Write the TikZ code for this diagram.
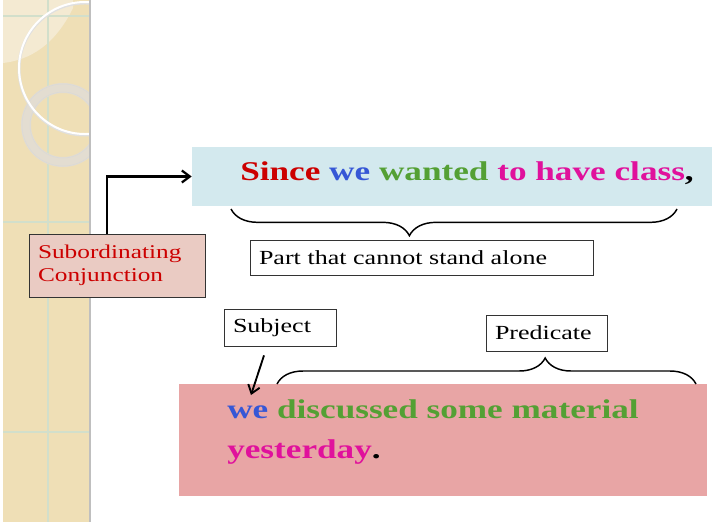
\documentclass[tikz,border=0pt]{standalone}
\usepackage{fontspec}
\setmainfont{Liberation Serif}[FakeStretch=1.3]
\usetikzlibrary{arrows.meta,decorations.pathreplacing}

\definecolor{stripbg}{HTML}{EFDFB6}
\definecolor{striplt}{HTML}{F4EAD2}
\definecolor{stripln}{HTML}{D2DFCB}
\definecolor{ringgray}{HTML}{E3DDD1}
\definecolor{clauseblue}{HTML}{D3E9EE}
\definecolor{mainpink}{HTML}{E8A5A5}
\definecolor{conjfill}{HTML}{EACBC3}
\definecolor{sred}{HTML}{CC0000}
\definecolor{sblue}{HTML}{3657D6}
\definecolor{sgreen}{HTML}{54A034}
\definecolor{smagenta}{HTML}{E0119C}

\begin{document}
\begin{tikzpicture}[x=0.75pt,y=-0.75pt,
    box/.style={draw=black!80, line width=0.6pt, inner xsep=6.75pt, inner ysep=0pt, align=left},
    big/.style={font=\bfseries\fontsize{20.3}{24}\selectfont},
    brc/.style={decorate, decoration={brace, amplitude=#1}, line width=1.1pt}]

  \useasboundingbox (0,0) rectangle (712,522);

  % Decorated strip on the left
  \begin{scope}
    \clip (3,0) rectangle (90,522);
    \fill[stripbg] (3,0) rectangle (90,522);
    \fill[striplt] (3,0) -- (73,0) -- (73,8) .. controls (55,45) and (30,60) .. (3,63) -- cycle;
    \draw[stripln, line width=2pt] (48,0) -- (48,522);
    \foreach \y in {16,222,432}
      \draw[stripln, line width=1.8pt] (3,\y) -- (90,\y);
    \draw[ringgray, line width=7.5pt] (63,125) circle (37);
    \draw[black!15, line width=0.4pt] (63,125) circle (41) (63,125) circle (33);
    \draw[black!12, line width=2.2pt] (85,69) circle (66);
    \draw[white, line width=1.5pt] (85,68) circle (66);
  \end{scope}
  \draw[black!25, line width=1.5pt] (90,0) -- (90,522);

  % Coloured sentence boxes
  \node[fill=clauseblue, minimum width=390pt, minimum height=44.25pt] (clause) at (452,176.5) {};
  \node[fill=mainpink, minimum width=396pt, minimum height=84pt] (main) at (443,440) {};

  % Sentence text
  \node[big, anchor=base west, inner sep=0pt] (since) at (240,180)
    {\textcolor{sred}{Since} \textcolor{sblue}{we} \textcolor{sgreen}{wanted} \textcolor{smagenta}{to have class},};
  \node[big, anchor=base west, inner sep=0pt] (line1) at (227,418)
    {\textcolor{sblue}{we} \textcolor{sgreen}{discussed some material}};
  \node[big, anchor=base west, inner sep=0pt] (line2) at (227,458)
    {\textcolor{smagenta}{yesterday}.};

  % Label boxes
  \node[box, fill=conjfill, text width=118.5pt, minimum height=47.25pt, text=sred,
        font=\fontsize{14.6}{17}\selectfont] (conj) at (117,265.5)
    {Subordinating\\Conjunction};
  \node[box, fill=white, text width=243.75pt, minimum height=26.25pt,
        font=\fontsize{15}{18}\selectfont] (part) at (421.5,257.5) {Part that cannot stand alone};
  \node[box, fill=white, text width=70.5pt, minimum height=27.75pt,
        font=\fontsize{15}{18}\selectfont] (subj) at (280,327.5) {Subject};
  \node[box, fill=white, text width=77.25pt, minimum height=27pt,
        font=\fontsize{15}{18}\selectfont] (pred) at (546.5,333) {Predicate};

  % Braces
  \coordinate (b1a) at (231,209);
  \coordinate (b1b) at (677,209);
  \coordinate (b2a) at (277,384);
  \coordinate (b2b) at (696,384);
  \draw[brc=20pt, decoration={mirror, aspect=0.4}] (b1a) -- (b1b);
  \draw[brc=19.5pt, decoration={aspect=0.64}] (b2a) -- (b2b);

  % Arrows
  \coordinate (subjtip) at (251,395);
  \draw[line width=1.7pt, -{Straight Barb[length=6pt, width=9pt]}] ([xshift=-7.5pt]conj.north) |- (clause.west);
  \draw[line width=1.4pt, -{Straight Barb[length=6pt, width=9pt]}] ([xshift=-12pt, yshift=-6.75pt]subj.south) -- (subjtip);

\end{tikzpicture}
\end{document}
